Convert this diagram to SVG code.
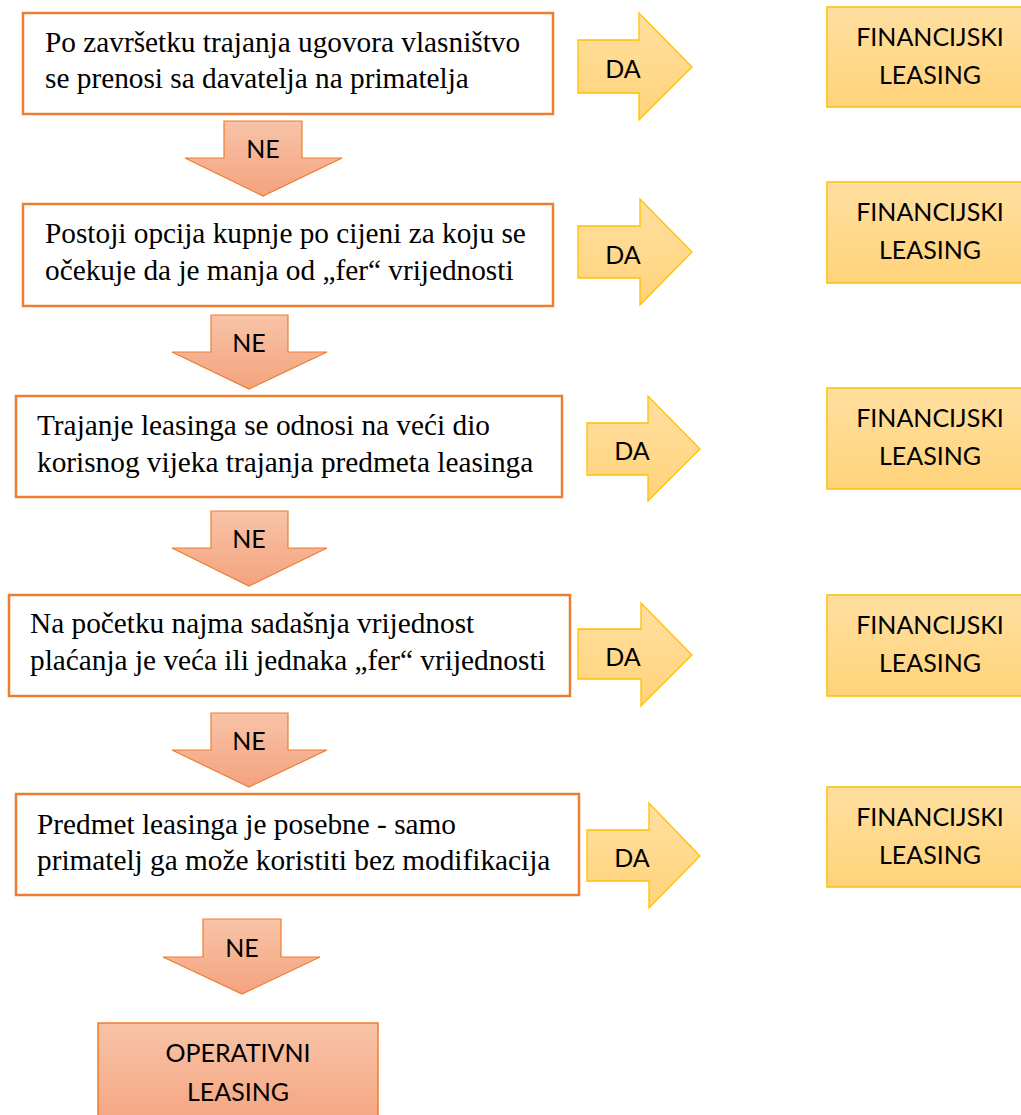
<svg xmlns="http://www.w3.org/2000/svg" width="1021" height="1115" viewBox="0 0 1021 1115">
<defs>
<linearGradient id="gOr" x1="0" y1="0" x2="0" y2="1">
<stop offset="0" stop-color="#F8C3A7"/><stop offset="1" stop-color="#F4A37E"/>
</linearGradient>
<linearGradient id="gYe" x1="0" y1="0" x2="0" y2="1">
<stop offset="0" stop-color="#FFDFA0"/><stop offset="1" stop-color="#FFD37A"/>
</linearGradient>
<style>
.q{fill:#FFFFFF;stroke:#ED7D31;stroke-width:2.5}
.qt{font-family:"Liberation Serif","Times New Roman",serif;font-size:29.3px;fill:#000}
.ne{fill:url(#gOr);stroke:#ED7D31;stroke-width:1.2}
.da{fill:url(#gYe);stroke:#FFC000;stroke-width:1.3}
.fin{fill:url(#gYe);stroke:#FFC000;stroke-width:1.5}
.op{fill:url(#gOr);stroke:#ED7D31;stroke-width:1.5}
.lb{font-family:Lato,"Open Sans","Liberation Sans",sans-serif;font-size:25px;fill:#000;text-anchor:middle}
</style>
</defs>

<g id="connectors">
<g id="ne1"><path class="ne" d="M224,121 H302 V158 H342 L263,196 L185,158 H224 Z"/><text class="lb" x="263" y="158">NE</text></g>
<g id="ne2"><path class="ne" d="M211,315 H288 V352 H327 L249,389 L172,352 H211 Z"/><text class="lb" x="249" y="352">NE</text></g>
<g id="ne3"><path class="ne" d="M211,511 H288 V548 H327 L249,586 L172,548 H211 Z"/><text class="lb" x="249" y="548">NE</text></g>
<g id="ne4"><path class="ne" d="M211,713 H288 V750 H327 L249,787 L172,750 H211 Z"/><text class="lb" x="249" y="750">NE</text></g>
<g id="ne5"><path class="ne" d="M203,919 H281 V957 H320 L242,994 L163,957 H203 Z"/><text class="lb" x="242" y="957">NE</text></g>

<g id="da1"><path class="da" d="M578,40 H639 V13 L692,67 L639,120 V93 H578 Z"/><text class="lb" x="623" y="78">DA</text></g>
<g id="da2"><path class="da" d="M578,226 H640 V199 L692,252 L640,305 V278 H578 Z"/><text class="lb" x="623" y="264">DA</text></g>
<g id="da3"><path class="da" d="M587,423 H648 V396 L700,449 L648,501 V475 H587 Z"/><text class="lb" x="632" y="460">DA</text></g>
<g id="da4"><path class="da" d="M578,629 H641 V603 L692,655 L641,706 V679 H578 Z"/><text class="lb" x="623" y="666">DA</text></g>
<g id="da5"><path class="da" d="M587,830 H649 V803 L700,856 L649,908 V881 H587 Z"/><text class="lb" x="632" y="867">DA</text></g>
</g>

<g id="q1"><rect class="q" x="23" y="13" width="530" height="101"/>
<text class="qt" x="45" y="52">Po završetku trajanja ugovora vlasništvo</text>
<text class="qt" x="45" y="88">se prenosi sa davatelja na primatelja</text></g>

<g id="q2"><rect class="q" x="23" y="204" width="530" height="102"/>
<text class="qt" x="45" y="243">Postoji opcija kupnje po cijeni za koju se</text>
<text class="qt" x="45" y="280">očekuje da je manja od „fer“ vrijednosti</text></g>

<g id="q3"><rect class="q" x="16" y="396" width="546" height="101"/>
<text class="qt" x="37" y="435">Trajanje leasinga se odnosi na veći dio</text>
<text class="qt" x="37" y="472">korisnog vijeka trajanja predmeta leasinga</text></g>

<g id="q4"><rect class="q" x="9" y="595" width="561" height="101"/>
<text class="qt" x="30" y="633">Na početku najma sadašnja vrijednost</text>
<text class="qt" x="30" y="670">plaćanja je veća ili jednaka „fer“ vrijednosti</text></g>

<g id="q5"><rect class="q" x="16" y="794" width="563" height="101"/>
<text class="qt" x="37" y="834">Predmet leasinga je posebne - samo</text>
<text class="qt" x="37" y="870">primatelj ga može koristiti bez modifikacija</text></g>

<g id="fin1"><rect class="fin" x="827" y="7" width="220" height="100"/>
<text class="lb" x="930" y="46">FINANCIJSKI</text><text class="lb" x="930" y="84">LEASING</text></g>
<g id="fin2"><rect class="fin" x="827" y="182" width="220" height="101"/>
<text class="lb" x="930" y="221">FINANCIJSKI</text><text class="lb" x="930" y="259">LEASING</text></g>
<g id="fin3"><rect class="fin" x="827" y="388" width="220" height="101"/>
<text class="lb" x="930" y="427">FINANCIJSKI</text><text class="lb" x="930" y="465">LEASING</text></g>
<g id="fin4"><rect class="fin" x="827" y="595" width="220" height="101"/>
<text class="lb" x="930" y="634">FINANCIJSKI</text><text class="lb" x="930" y="672">LEASING</text></g>
<g id="fin5"><rect class="fin" x="827" y="787" width="220" height="100"/>
<text class="lb" x="930" y="826">FINANCIJSKI</text><text class="lb" x="930" y="864">LEASING</text></g>

<g id="op"><rect class="op" x="98" y="1023" width="280" height="110"/>
<text class="lb" x="238" y="1062">OPERATIVNI</text><text class="lb" x="238" y="1101">LEASING</text></g>
</svg>
